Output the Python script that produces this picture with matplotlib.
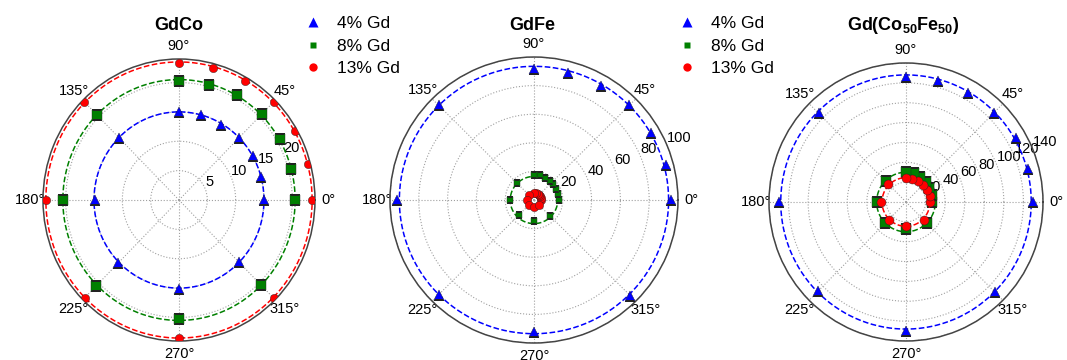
import numpy as np
import matplotlib.pyplot as plt
from matplotlib.lines import Line2D

plt.rcParams['font.family'] = ['Liberation Sans', 'DejaVu Sans']
plt.rcParams['mathtext.fontset'] = 'custom'
plt.rcParams['mathtext.rm'] = 'Liberation Sans'
plt.rcParams['mathtext.bf'] = 'Liberation Sans:bold'

# measurement angles in degrees
angles = [0, 15, 30, 45, 60, 75, 90, 135, 180, 225, 270, 315]
angles_gdfe8 = [0, 13, 26, 39, 51, 64, 77, 90, 135, 180, 225, 270, 315]

# GdCo
gdco_4 = [15.0, 14.9, 15.0, 14.9, 14.8, 15.0, 14.9, 15.0, 14.9, 15.2, 15.2, 15.0]
gdco_8 = [20.5, 20.5, 20.6, 20.6, 20.6, 20.3, 20.3, 20.5, 20.5, 20.6, 20.3, 20.4]
gdco_13 = [23.5, 23.6, 23.6, 23.6, 23.4, 23.3, 23.4, 23.6, 23.5, 23.5, 23.5, 23.7]
gdco_fit = [15.0, 20.5, 23.5]

# GdFe
gdfe_4 = [95.1, 95.1, 93.5, 93.8, 92.4, 91.7, 91.4, 93.5, 95.4, 93.5, 92.6, 94.7]
gdfe_8 = [17.2, 17.4, 17.2, 17.3, 17.3, 17.5, 17.8, 17.4, 17.0, 16.8, 15.0, 14.8, 15.6]
gdfe_13 = [5.0, 5.2, 5.0, 5.1, 5.0, 5.2, 5.0, 5.1, 5.0, 5.2, 5.0, 5.1]
gdfe_fit = [93.5, 16.5, 5.0]

# Gd(Co50Fe50)
gdcofe_4 = [129.8, 129.4, 129.4, 126.7, 126.7, 126.0, 125.7, 126.4, 130.0, 126.7, 129.8, 128.7]
gdcofe_8 = [26.9, 27.6, 27.6, 28.6, 29.6, 30.3, 29.9, 29.3, 29.3, 29.9, 27.6, 30.3]
gdcofe_13 = [24.5, 25.2, 24.5, 24.1, 24.1, 24.1, 24.1, 26.2, 25.5, 25.2, 24.1, 25.5]
gdcofe_fit = [128.0, 30.0, 24.5]

labels = ['4% Gd', '8% Gd', '13% Gd']
colors = ['#0000ff', '#008000', '#ff0000']
markers = ['^', 's', 'o']

panels = [
    dict(title='GdCo', rect=[0.0403, 0.0528, 0.2549, 0.7833],
         ang=[angles, angles, angles], r=[gdco_4, gdco_8, gdco_13],
         fit=gdco_fit, rmax=24, rticks=[5, 10, 15, 20], ms=[7.5, 6.5, 6.0],
         tx=179),
    dict(title='GdFe', rect=[0.3655, 0.0472, 0.2699, 0.7944],
         ang=[angles, angles_gdfe8, angles], r=[gdfe_4, gdfe_8, gdfe_13],
         fit=gdfe_fit, rmax=100, rticks=[20, 40, 60, 80, 100],
         ms=[7.5, 4.0, 6.0], tx=532),
    dict(title=r'Gd(Co$\mathbf{_{50}}$Fe$\mathbf{_{50}}$)',
         rect=[0.7207, 0.0528, 0.2568, 0.7722],
         ang=[angles, angles, angles], r=[gdcofe_4, gdcofe_8, gdcofe_13],
         fit=gdcofe_fit, rmax=140, rticks=[20, 40, 60, 80, 100, 120, 140],
         ms=[7.5, 6.5, 6.5], tx=903),
]

fig = plt.figure(figsize=(10.67, 3.6), dpi=100)
circle = np.linspace(0, 2 * np.pi, 400)

for p in panels:
    ax = fig.add_axes(p['rect'], projection='polar')
    ax.set_aspect('auto')
    for i in range(3):
        th = np.deg2rad(p['ang'][i])
        ax.plot(circle, np.full_like(circle, p['fit'][i]), '--',
                color=colors[i], lw=1.1, zorder=2 + i)
        ax.plot(th, p['r'][i], linestyle='none', marker=markers[i],
                ms=p['ms'][i], color=colors[i], mec='#222222', mew=0.3,
                zorder=3 + i)
    ax.set_rlim(0, p['rmax'])
    ax.set_rticks(p['rticks'])
    ax.set_rlabel_position(22.5)
    ax.set_thetagrids(range(0, 360, 45))
    ax.grid(True, linestyle=':', color='#a0a0a0', lw=0.8)
    ax.tick_params(labelsize=10.5)
    ax.tick_params(axis='x', pad=-1)
    ax.spines['polar'].set_color('#444444')
    ax.spines['polar'].set_linewidth(1.1)
    fig.text(p['tx'] / 1067, 1 - 25 / 360, p['title'], ha='center',
             va='center', fontsize=13, fontweight='bold')

# legends for the first two panels
legend_ms = [7.5, 5.0, 6.0]
handles = [Line2D([], [], linestyle='none', marker=m, color=c, ms=s,
                  mec='none') for m, c, s in zip(markers, colors, legend_ms)]
for x0 in [304 / 1067, 678 / 1067]:
    fig.legend(handles, labels, loc='upper left',
               bbox_to_anchor=(x0, 1 - 16 / 360), frameon=False,
               fontsize=12.5, handlelength=1.0, handletextpad=0.88,
               borderpad=0, borderaxespad=0, labelspacing=0.42)

fig.savefig('out.png', dpi=100)
